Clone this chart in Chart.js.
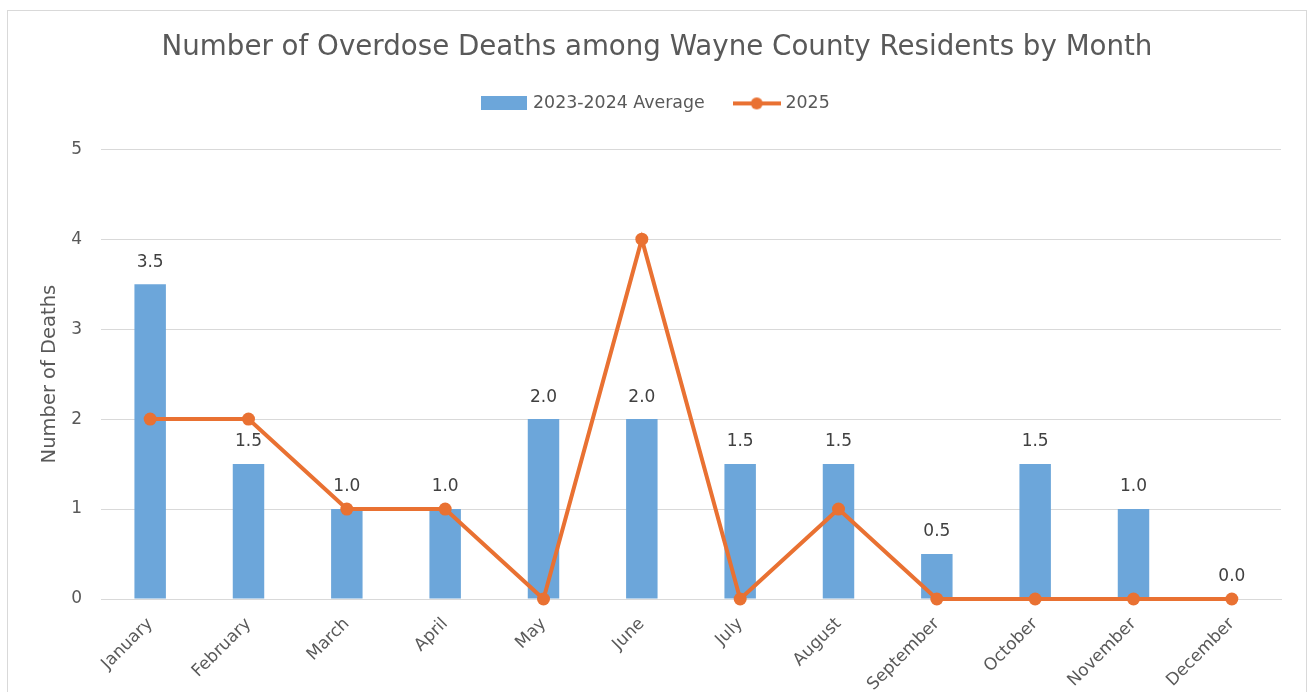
<!DOCTYPE html>
<html>
<head>
<meta charset="utf-8">
<script src="https://cdn.jsdelivr.net/npm/chart.js@4.4.1/dist/chart.umd.min.js"></script>
<style>
  html, body { margin: 0; padding: 0; background: #ffffff; overflow: hidden; width: 1309px; height: 692px; }
  #wrap { position: absolute; left: 0; top: 0; width: 1314px; height: 760px; }
  #frame { position: absolute; left: 7px; top: 10px; width: 1300px; height: 800px; box-sizing: border-box; border: 1px solid #D9D9D9; pointer-events: none; }
</style>
</head>
<body>
<div id="wrap"><canvas id="c" width="1314" height="760"></canvas></div>
<div id="frame"></div>
<script>
const months = ["January","February","March","April","May","June","July","August","September","October","November","December"];
const avg2023_2024 = [3.5, 1.5, 1.0, 1.0, 2.0, 2.0, 1.5, 1.5, 0.5, 1.5, 1.0, 0.0];
const deaths2025 = [2, 2, 1, 1, 0, 4, 0, 1, 0, 0, 0, 0];
const yTicks = [0, 1, 2, 3, 4, 5];
const seriesNames = ["2023-2024 Average", "2025"];
const chartTitle = "Number of Overdose Deaths among Wayne County Residents by Month";
const yAxisTitle = "Number of Deaths";

const BLUE = "#6CA6DA";
const ORANGE = "#E97132";
const TEXT = "#595959";
const GRID = "#D9D9D9";
const FONT = "'DejaVu Sans', sans-serif";

function barLegendImg() {
  const c = document.createElement('canvas');
  c.width = 46; c.height = 14;
  const x = c.getContext('2d');
  x.fillStyle = BLUE; x.fillRect(0, 0, 46, 14);
  return c;
}
function lineLegendImg() {
  const c = document.createElement('canvas');
  c.width = 48; c.height = 14;
  const x = c.getContext('2d');
  x.strokeStyle = ORANGE; x.lineWidth = 4;
  x.beginPath(); x.moveTo(0, 7); x.lineTo(48, 7); x.stroke();
  x.fillStyle = ORANGE; x.beginPath(); x.arc(24, 7, 6, 0, Math.PI * 2); x.fill();
  return c;
}
const legendImgs = [barLegendImg(), lineLegendImg()];

const barLabels = {
  id: 'barLabels',
  afterDatasetsDraw(chart) {
    const meta = chart.getDatasetMeta(0);
    const ctx = chart.ctx;
    ctx.save();
    ctx.font = "17px " + FONT;
    ctx.fillStyle = "#404040";
    ctx.textAlign = "center";
    ctx.textBaseline = "middle";
    meta.data.forEach((el, i) => {
      ctx.fillText(avg2023_2024[i].toFixed(1), el.x, el.y - 22);
    });
    ctx.restore();
  }
};

new Chart(document.getElementById('c'), {
  data: {
    labels: months,
    datasets: [
      {
        type: 'bar',
        label: seriesNames[0],
        data: avg2023_2024,
        xAxisID: 'x',
        yAxisID: 'y',
        backgroundColor: BLUE,
        borderWidth: 0,
        barPercentage: 0.32,
        categoryPercentage: 1,
        order: 2
      },
      {
        type: 'line',
        label: seriesNames[1],
        data: deaths2025,
        xAxisID: 'x',
        yAxisID: 'y',
        borderColor: ORANGE,
        backgroundColor: ORANGE,
        borderWidth: 4,
        pointRadius: 6.5,
        pointBackgroundColor: ORANGE,
        pointBorderWidth: 0,
        tension: 0,
        clip: false,
        order: 1
      }
    ]
  },
  options: {
    responsive: false,
    animation: false,
    events: [],
    layout: { padding: { left: 0, right: 0, top: 0, bottom: 0 } },
    plugins: {
      tooltip: { enabled: false },
      title: {
        display: true,
        text: chartTitle,
        color: TEXT,
        font: { family: FONT, size: 27.7, weight: 'normal', lineHeight: 1 },
        padding: { top: 33.5, bottom: 1.5 }
      },
      legend: {
        display: true,
        labels: {
          usePointStyle: true,
          pointStyleWidth: 40,
          padding: 32,
          color: TEXT,
          font: { family: FONT, size: 17.4 },
          generateLabels() {
            return seriesNames.map((n, i) => ({
              text: n,
              pointStyle: legendImgs[i],
              fillStyle: i === 0 ? BLUE : ORANGE,
              strokeStyle: i === 0 ? BLUE : ORANGE,
              lineWidth: 0,
              hidden: false,
              datasetIndex: i,
              fontColor: TEXT
            }));
          }
        }
      }
    },
    scales: {
      x: {
        position: 'bottom',
        grid: { display: false },
        border: { display: true, color: GRID, width: 1 },
        ticks: {
          color: TEXT,
          font: { family: FONT, size: 17 },
          minRotation: 45,
          maxRotation: 45,
          autoSkip: false,
          padding: 7
        },
        afterFit(s) { s.height = 161; }
      },
      xTop: {
        type: 'category',
        position: 'top',
        display: true,
        grid: { display: false, drawTicks: false },
        border: { display: false },
        ticks: { display: false },
        afterFit(s) { s.height = 27.1; }
      },
      y: {
        position: 'left',
        min: 0,
        max: 5,
        afterBuildTicks(s) { s.ticks = yTicks.map(v => ({ value: v })); },
        grid: { color: GRID, lineWidth: 1, drawTicks: false },
        border: { display: false },
        ticks: {
          color: TEXT,
          font: { family: FONT, size: 17 },
          padding: 19
        },
        title: {
          display: true,
          text: yAxisTitle,
          color: TEXT,
          font: { family: FONT, size: 19.5, lineHeight: 1.2 },
          padding: { top: 38.3, bottom: 0 }
        },
        afterFit(s) { s.width = 101; }
      },
      yRight: {
        type: 'linear',
        position: 'right',
        display: true,
        min: 0,
        max: 5,
        grid: { display: false, drawTicks: false },
        border: { display: false },
        ticks: { display: false },
        afterFit(s) { s.width = 33; }
      }
    }
  },
  plugins: [barLabels]
});
</script>
</body>
</html>
